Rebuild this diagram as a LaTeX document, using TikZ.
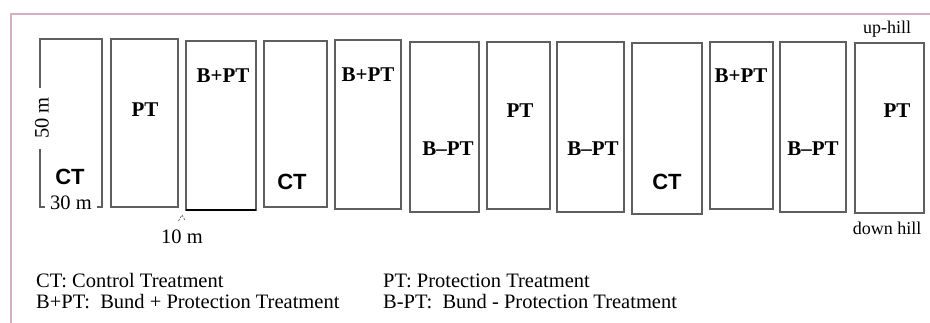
\documentclass[tikz,border=0pt]{standalone}
\usepackage{fontspec}
\setmainfont{Liberation Serif}
\newfontfamily\arialfont{Liberation Sans}
\definecolor{framepink}{RGB}{214,176,194}
\definecolor{plotgray}{RGB}{95,95,95}
\tikzset{
  plot/.style={draw=plotgray,line width=1.2pt},
  trt/.style={font=\fontsize{21}{24}\selectfont\bfseries,inner sep=0pt},
  ctl/.style={font=\arialfont\fontsize{22}{25}\selectfont\bfseries,inner sep=0pt},
  note/.style={font=\fontsize{18}{20}\selectfont,inner sep=0pt},
  size/.style={font=\fontsize{20.5}{23}\selectfont,inner sep=0pt},
  legend/.style={font=\fontsize{20.5}{23}\selectfont,inner sep=0pt,anchor=base west},
}
\begin{document}
\begin{tikzpicture}[x=1pt,y=-1pt]
  \clip (0,0) rectangle (930,322);
  \fill[white] (0,0) rectangle (930,322);
  %% Frame
  \draw[framepink,line width=2.5pt] (11,330) -- (11,14) -- (940,14);
  %% Plot 1 with its sizes
  \draw[plot] (40,88) -- (40,39) -- (102,39) -- (102,207) -- (97,207);
  \draw[plot] (40,149) -- (40,207) -- (45,207);
  \node[size,rotate=90] (len) at (42,118) {50 m};
  \node[size] (wid) at (71,203) {30 m};
  \node[ctl] (l1) at (70,177) {CT};
  %% Plots
  \draw[plot] (111,39) rectangle (178,207);
  \draw[plot] (186,41) rectangle (256,210);
  \draw[line width=2.2pt] (186,210) -- (256,210);
  \draw[plot] (264,41) rectangle (327,207);
  \draw[plot] (335,40) rectangle (401,209);
  \draw[plot] (410,42) rectangle (479,212);
  \draw[plot] (487,42) rectangle (550,209);
  \draw[plot] (557,42) rectangle (624,212);
  \draw[plot] (632,43) rectangle (702,214);
  \draw[plot] (710,42) rectangle (773,209);
  \draw[plot] (780,42) rectangle (846,212);
  \draw[plot] (855,43) rectangle (924,213);
  %% Treatments
  \node[trt] (l2) at (145,110) {PT};
  \node[trt] (l3) at (223,76) {B+PT};
  \node[ctl] (l4) at (292,182) {CT};
  \node[trt] (l5) at (368,75) {B+PT};
  \node[trt] (l6) at (448,149) {B--PT};
  \node[trt] (l7) at (520,111) {PT};
  \node[trt] (l8) at (593,149) {B--PT};
  \node[ctl] (l9) at (667,182) {CT};
  \node[trt] (l10) at (741,76) {B+PT};
  \node[trt] (l11) at (813,149) {B--PT};
  \node[trt] (l12) at (897,111) {PT};
  %% Gap between plots
  \draw[plotgray,line width=0.7pt,dashed,dash pattern=on 2pt off 1.5pt] (178.5,221) -- (182,215) -- (185.5,221);
  \node[size] (gap) at (182,237) {10 m};
  %% Slope
  \node[note,anchor=base] (up) at (887,33) {up-hill};
  \node[note,anchor=base] (down) at (887,234) {down hill};
  %% Legend
  \node[legend] (k1) at (36,287) {CT: Control Treatment};
  \node[legend] (k2) at (36,308) {B+PT:\ \ Bund + Protection Treatment};
  \node[legend] (k3) at (383,287) {PT: Protection Treatment};
  \node[legend] (k4) at (383,308) {B-PT:\ \ Bund - Protection Treatment};
\end{tikzpicture}
\end{document}
